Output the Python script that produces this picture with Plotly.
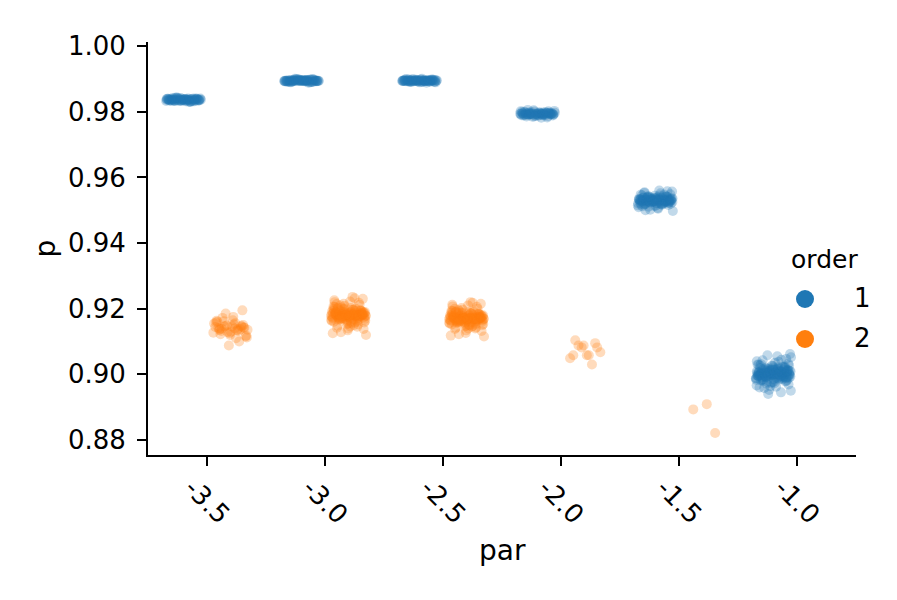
import plotly.graph_objects as go

# ---------------- data ----------------
categories = ["-3.5", "-3.0", "-2.5", "-2.0", "-1.5", "-1.0"]
hue_levels = ["1", "2"]

# order 1 (blue)
b_m35 = [0.9837, 0.9834, 0.9840, 0.9836, 0.9838, 0.9833, 0.9841, 0.9835, 0.9839, 0.9837,
         0.9832, 0.9842, 0.9836, 0.9838, 0.9834, 0.9840, 0.9837, 0.9835, 0.9839, 0.9833,
         0.9841, 0.9836, 0.9838, 0.9837, 0.9834, 0.9840, 0.9831, 0.9843, 0.9835, 0.9839,
         0.9837, 0.9836, 0.9838, 0.9833, 0.9841, 0.9834, 0.9840, 0.9837, 0.9835, 0.9839,
         0.9836, 0.9838, 0.9832, 0.9842, 0.9837, 0.9834, 0.9840, 0.9836, 0.9838, 0.9837,
         0.9835, 0.9839, 0.9833, 0.9841, 0.9837, 0.9836, 0.9838, 0.9834, 0.9840, 0.9837,
         0.9830, 0.9844, 0.9836, 0.9838, 0.9833, 0.9841, 0.9835, 0.9839, 0.9831, 0.9843]
b_m30 = [0.9895, 0.9893, 0.9897, 0.9894, 0.9896, 0.9892, 0.9898, 0.9895, 0.9894, 0.9896,
         0.9891, 0.9899, 0.9895, 0.9893, 0.9897, 0.9895, 0.9894, 0.9896, 0.9890, 0.9900,
         0.9895, 0.9893, 0.9897, 0.9892, 0.9898, 0.9894, 0.9896, 0.9895, 0.9893, 0.9897,
         0.9895, 0.9891, 0.9899, 0.9894, 0.9896, 0.9895, 0.9893, 0.9897, 0.9892, 0.9898,
         0.9895, 0.9894, 0.9896, 0.9890, 0.9900, 0.9895, 0.9893, 0.9897, 0.9894, 0.9896,
         0.9895, 0.9892, 0.9898, 0.9895, 0.9894, 0.9896, 0.9891, 0.9899, 0.9895, 0.9893,
         0.9889, 0.9901, 0.9894, 0.9896, 0.9892, 0.9898, 0.9895, 0.9893, 0.9897, 0.9895]
b_m25 = [0.9895, 0.9894, 0.9896, 0.9892, 0.9898, 0.9895, 0.9893, 0.9897, 0.9891, 0.9899,
         0.9895, 0.9894, 0.9896, 0.9893, 0.9897, 0.9895, 0.9890, 0.9900, 0.9894, 0.9896,
         0.9895, 0.9892, 0.9898, 0.9893, 0.9897, 0.9895, 0.9894, 0.9896, 0.9891, 0.9899,
         0.9895, 0.9893, 0.9897, 0.9894, 0.9896, 0.9892, 0.9898, 0.9895, 0.9894, 0.9896,
         0.9895, 0.9890, 0.9901, 0.9893, 0.9897, 0.9895, 0.9894, 0.9896, 0.9892, 0.9898,
         0.9895, 0.9893, 0.9897, 0.9894, 0.9896, 0.9895, 0.9891, 0.9899, 0.9894, 0.9896,
         0.9889, 0.9900, 0.9893, 0.9897, 0.9895, 0.9892, 0.9898, 0.9894, 0.9896, 0.9895]
b_m20 = [0.9794, 0.9791, 0.9797, 0.9793, 0.9795, 0.9789, 0.9799, 0.9792, 0.9796, 0.9794,
         0.9787, 0.9801, 0.9794, 0.9790, 0.9798, 0.9793, 0.9795, 0.9791, 0.9797, 0.9785,
         0.9803, 0.9794, 0.9792, 0.9796, 0.9788, 0.9800, 0.9794, 0.9793, 0.9795, 0.9790,
         0.9798, 0.9783, 0.9805, 0.9794, 0.9791, 0.9797, 0.9793, 0.9795, 0.9789, 0.9799,
         0.9794, 0.9792, 0.9796, 0.9786, 0.9802, 0.9794, 0.9790, 0.9798, 0.9793, 0.9795,
         0.9788, 0.9800, 0.9794, 0.9791, 0.9797, 0.9782, 0.9806, 0.9794, 0.9792, 0.9796,
         0.9793, 0.9795, 0.9789, 0.9799, 0.9791, 0.9797, 0.9786, 0.9802, 0.9794, 0.9792]
b_m15 = [0.9530, 0.9524, 0.9536, 0.9527, 0.9533, 0.9520, 0.9540, 0.9529, 0.9531, 0.9517,
         0.9543, 0.9526, 0.9534, 0.9522, 0.9538, 0.9530, 0.9514, 0.9546, 0.9528, 0.9532,
         0.9525, 0.9535, 0.9519, 0.9541, 0.9530, 0.9523, 0.9537, 0.9511, 0.9549, 0.9529,
         0.9531, 0.9526, 0.9534, 0.9521, 0.9539, 0.9530, 0.9516, 0.9544, 0.9527, 0.9533,
         0.9524, 0.9536, 0.9505, 0.9555, 0.9530, 0.9528, 0.9532, 0.9518, 0.9542, 0.9525,
         0.9535, 0.9530, 0.9522, 0.9538, 0.9498, 0.9560, 0.9529, 0.9531, 0.9513, 0.9547,
         0.9527, 0.9533, 0.9520, 0.9540, 0.9530, 0.9526, 0.9534, 0.9509, 0.9552, 0.9530,
         0.9523, 0.9537, 0.9528, 0.9532, 0.9502, 0.9557, 0.9530, 0.9519, 0.9541, 0.9530,
         0.9529, 0.9531, 0.9525, 0.9535, 0.9521, 0.9539, 0.9527, 0.9533, 0.9515, 0.9545,
         0.9530, 0.9523, 0.9537, 0.9518, 0.9542, 0.9528, 0.9532, 0.9507, 0.9553, 0.9530,
         0.9526, 0.9534, 0.9520, 0.9540, 0.9529, 0.9531, 0.9512, 0.9548, 0.9524, 0.9536,
         0.9530, 0.9500, 0.9558, 0.9527, 0.9533, 0.9517, 0.9543, 0.9530, 0.9522, 0.9538]
b_m10 = [0.9002, 0.8994, 0.9010, 0.8998, 0.9006, 0.8987, 0.9017, 0.8999, 0.9005, 0.8982,
         0.9022, 0.8995, 0.9009, 0.8990, 0.9014, 0.9002, 0.8977, 0.9027, 0.8997, 0.9007,
         0.8993, 0.9011, 0.8985, 0.9019, 0.9002, 0.8996, 0.9008, 0.8971, 0.9033, 0.9000,
         0.9004, 0.8991, 0.9013, 0.8988, 0.9016, 0.9002, 0.8979, 0.9025, 0.8998, 0.9006,
         0.8994, 0.9010, 0.8962, 0.9043, 0.9002, 0.8999, 0.9005, 0.8984, 0.9020, 0.8992,
         0.9012, 0.9002, 0.8986, 0.9018, 0.8950, 0.9055, 0.9001, 0.9003, 0.8975, 0.9029,
         0.8996, 0.9008, 0.8989, 0.9015, 0.9002, 0.8993, 0.9011, 0.8966, 0.9038, 0.9002,
         0.8983, 0.9021, 0.8997, 0.9007, 0.8940, 0.9062, 0.9002, 0.8980, 0.9024, 0.9002,
         0.8995, 0.9009, 0.8991, 0.9013, 0.8973, 0.9031, 0.9000, 0.9004, 0.8987, 0.9017,
         0.8958, 0.9047, 0.8998, 0.9006, 0.8945, 0.9058, 0.9002, 0.8990, 0.9014, 0.9002,
         0.9001, 0.8997, 0.9007, 0.8992, 0.9012, 0.8985, 0.9019, 0.9003, 0.8999, 0.9009,
         0.8988, 0.9016, 0.8978, 0.9026, 0.9002, 0.8994, 0.9010, 0.8969, 0.9035, 0.9000,
         0.8996, 0.9008, 0.8983, 0.9021, 0.9004, 0.8990, 0.9014, 0.8960, 0.9044, 0.9002,
         0.8998, 0.9006, 0.8986, 0.9018, 0.8974, 0.9030, 0.9001, 0.8993, 0.9011, 0.9003,
         0.8981, 0.9023, 0.8952, 0.9052, 0.8999, 0.9005, 0.8989, 0.9015, 0.8995, 0.9009,
         0.8977, 0.9027, 0.9002, 0.8991, 0.9013, 0.8964, 0.9040, 0.9000, 0.8997, 0.9007]

# order 2 (orange)
o_m35 = [0.9140, 0.9132, 0.9150, 0.9125, 0.9158, 0.9138, 0.9145, 0.9118, 0.9165, 0.9135,
         0.9148, 0.9128, 0.9155, 0.9110, 0.9172, 0.9142, 0.9130, 0.9160, 0.9100, 0.9185,
         0.9136, 0.9152, 0.9122, 0.9195, 0.9088, 0.9144, 0.9134, 0.9162, 0.9115, 0.9146,
         0.9141, 0.9137, 0.9149, 0.9127, 0.9156, 0.9139, 0.9143, 0.9120, 0.9163, 0.9133,
         0.9147, 0.9112, 0.9175, 0.9138, 0.9145]
o_m30 = [0.9180, 0.9172, 0.9188, 0.9165, 0.9195, 0.9178, 0.9184, 0.9158, 0.9202, 0.9176,
         0.9186, 0.9168, 0.9192, 0.9150, 0.9210, 0.9181, 0.9174, 0.9190, 0.9145, 0.9215,
         0.9179, 0.9183, 0.9170, 0.9194, 0.9162, 0.9199, 0.9177, 0.9185, 0.9138, 0.9222,
         0.9180, 0.9173, 0.9187, 0.9166, 0.9196, 0.9179, 0.9182, 0.9155, 0.9205, 0.9175,
         0.9189, 0.9169, 0.9191, 0.9148, 0.9212, 0.9181, 0.9171, 0.9193, 0.9128, 0.9230,
         0.9178, 0.9184, 0.9164, 0.9198, 0.9120, 0.9236, 0.9180, 0.9176, 0.9186, 0.9160,
         0.9200, 0.9182, 0.9174, 0.9188, 0.9142, 0.9218, 0.9179, 0.9183, 0.9167, 0.9194,
         0.9181, 0.9177, 0.9185, 0.9170, 0.9191, 0.9163, 0.9197, 0.9179, 0.9183, 0.9175,
         0.9187, 0.9157, 0.9204, 0.9180, 0.9172, 0.9189, 0.9152, 0.9208, 0.9178, 0.9182,
         0.9168, 0.9193, 0.9134, 0.9226, 0.9180, 0.9176, 0.9186, 0.9161, 0.9199, 0.9180,
         0.9180, 0.9174, 0.9186, 0.9169, 0.9191, 0.9177, 0.9183, 0.9160, 0.9200, 0.9178,
         0.9182, 0.9166, 0.9195, 0.9153, 0.9207, 0.9180, 0.9172, 0.9188, 0.9146, 0.9214,
         0.9179, 0.9181, 0.9163, 0.9197, 0.9175, 0.9185, 0.9140, 0.9220, 0.9180, 0.9170,
         0.9190, 0.9156, 0.9203, 0.9178, 0.9182, 0.9125, 0.9232, 0.9177, 0.9184, 0.9180]
o_m25 = [0.9170, 0.9163, 0.9177, 0.9158, 0.9183, 0.9168, 0.9173, 0.9150, 0.9190, 0.9166,
         0.9175, 0.9160, 0.9180, 0.9145, 0.9196, 0.9171, 0.9165, 0.9178, 0.9140, 0.9202,
         0.9169, 0.9172, 0.9161, 0.9184, 0.9155, 0.9188, 0.9167, 0.9176, 0.9132, 0.9210,
         0.9170, 0.9164, 0.9176, 0.9157, 0.9185, 0.9169, 0.9172, 0.9148, 0.9193, 0.9166,
         0.9178, 0.9162, 0.9181, 0.9142, 0.9200, 0.9171, 0.9163, 0.9182, 0.9122, 0.9215,
         0.9168, 0.9174, 0.9156, 0.9186, 0.9115, 0.9220, 0.9170, 0.9167, 0.9175, 0.9152,
         0.9191, 0.9172, 0.9165, 0.9179, 0.9138, 0.9206, 0.9169, 0.9173, 0.9159, 0.9187,
         0.9171, 0.9166, 0.9175, 0.9160, 0.9180, 0.9153, 0.9186, 0.9169, 0.9173, 0.9164,
         0.9177, 0.9147, 0.9192, 0.9170, 0.9162, 0.9179, 0.9143, 0.9197, 0.9168, 0.9172,
         0.9158, 0.9183, 0.9126, 0.9212, 0.9170, 0.9166, 0.9176, 0.9151, 0.9189, 0.9170,
         0.9170, 0.9165, 0.9176, 0.9160, 0.9181, 0.9168, 0.9172, 0.9152, 0.9188, 0.9169,
         0.9171, 0.9157, 0.9185, 0.9146, 0.9194, 0.9170, 0.9163, 0.9178, 0.9140, 0.9200,
         0.9169, 0.9171, 0.9155, 0.9186, 0.9166, 0.9175, 0.9134, 0.9207, 0.9170, 0.9161,
         0.9180, 0.9149, 0.9191, 0.9168, 0.9172, 0.9118, 0.9218, 0.9167, 0.9174, 0.9170]
o_m20 = [0.9058, 0.9104, 0.9082, 0.9088, 0.9049, 0.9030,
         0.9088, 0.9067, 0.9058, 0.9058, 0.9095, 0.9082]
o_m15 = [0.8909, 0.8893, 0.8821]

order1_values = [b_m35, b_m30, b_m25, b_m20, b_m15, b_m10]
order2_values = [o_m35, o_m30, o_m25, o_m20, o_m15, []]

y_ticks = [0.88, 0.90, 0.92, 0.94, 0.96, 0.98, 1.00]

# ---------------- styling ----------------
FONT = "DejaVu Sans"
BLUE = "#1f77b4"
ORANGE = "#ff7f0e"
W, H = 897, 600
ML, MR, MT, MB = 148, 41, 42, 145
PW, PH = W - ML - MR, H - MT - MB
DODGE = 0.2        # seaborn dodge offset per hue level
JITTER = 0.15      # half-width of the strip jitter (category units)
GOLDEN = 0.6180339887


def px_x(px):
    return (px - ML) / PW


def px_y(py):
    return (H - MB - py) / PH


def strip_positions(groups, offset):
    """Category index + dodge offset + deterministic (low-discrepancy) jitter."""
    xs, ys = [], []
    for i, vals in enumerate(groups):
        for j, v in enumerate(vals):
            frac = ((j + 1) * GOLDEN) % 1.0
            xs.append(i + offset + (frac - 0.5) * 2 * JITTER)
            ys.append(v)
    return xs, ys


fig = go.Figure()
for name, groups, color, off in [
    ("1", order1_values, BLUE, -DODGE),
    ("2", order2_values, ORANGE, DODGE),
]:
    xs, ys = strip_positions(groups, off)
    fig.add_trace(go.Scatter(
        x=xs, y=ys, name=name, mode="markers",
        marker=dict(color=color, size=10, opacity=0.28, line=dict(width=0)),
        showlegend=False,
    ))

fig.update_layout(
    width=W, height=H,
    margin=dict(l=ML, r=MR, t=MT, b=MB),
    plot_bgcolor="white", paper_bgcolor="white",
    font=dict(family=FONT, color="black", size=26),
    showlegend=False,
)
fig.update_xaxes(
    range=[-0.5, 5.5], showline=True, linecolor="black", linewidth=2,
    ticks="outside", ticklen=9, tickwidth=2, tickcolor="black",
    tickvals=list(range(len(categories))),
    showticklabels=False, showgrid=False, zeroline=False,
)
fig.update_yaxes(
    range=[0.8754, 1.0013], showline=True, linecolor="black", linewidth=2,
    ticks="outside", ticklen=9, tickwidth=2, tickcolor="black",
    tickvals=y_ticks, tickformat=".2f", ticklabelstandoff=6,
    tickfont=dict(size=26), showgrid=False, zeroline=False,
)

annotations = []
# rotated category tick labels
for i, c in enumerate(categories):
    annotations.append(dict(
        x=i, y=px_y(501), xref="x", yref="paper", text=c, showarrow=False,
        textangle=45, xanchor="center", yanchor="middle",
        font=dict(size=26, family=FONT),
    ))
# axis titles
annotations.append(dict(x=0.5, y=px_y(550), xref="paper", yref="paper", text="par",
                        showarrow=False, xanchor="center", yanchor="middle",
                        font=dict(size=28, family=FONT)))
annotations.append(dict(x=px_x(45), y=0.5, xref="paper", yref="paper", text="p",
                        showarrow=False, textangle=-90, xanchor="center", yanchor="middle",
                        font=dict(size=28, family=FONT)))
# legend
annotations.append(dict(x=px_x(824), y=px_y(259), xref="paper", yref="paper", text="order",
                        showarrow=False, xanchor="center", yanchor="middle",
                        font=dict(size=25, family=FONT)))
shapes = []
for lab, color, py in [("1", BLUE, 299), ("2", ORANGE, 339)]:
    annotations.append(dict(x=px_x(862), y=px_y(py - 1), xref="paper", yref="paper", text=lab,
                            showarrow=False, xanchor="center", yanchor="middle",
                            font=dict(size=26, family=FONT)))
    shapes.append(dict(type="circle", xref="paper", yref="paper",
                       xsizemode="pixel", ysizemode="pixel",
                       xanchor=px_x(805), yanchor=px_y(py),
                       x0=-9, x1=9, y0=-9, y1=9,
                       fillcolor=color, line=dict(width=0)))
fig.update_layout(annotations=annotations, shapes=shapes)

fig.write_html("out.html")
